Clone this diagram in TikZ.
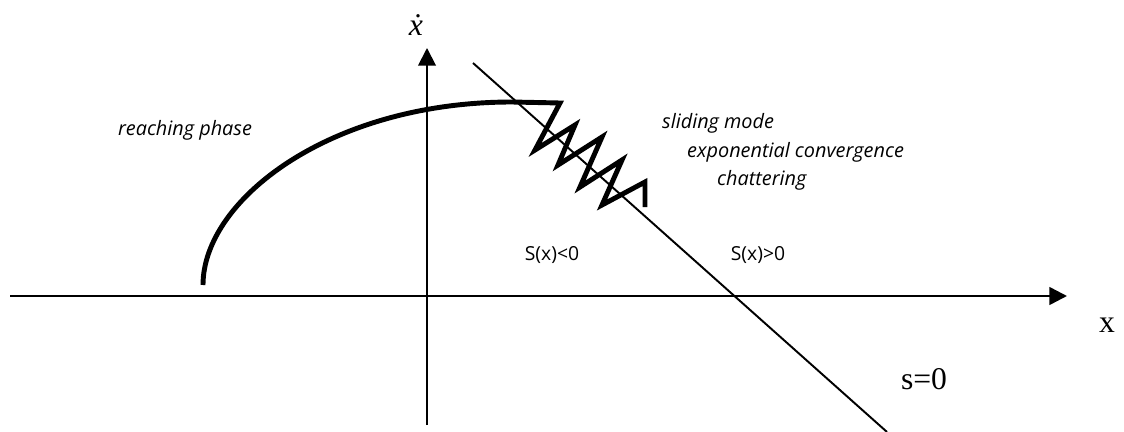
\documentclass[tikz,border=0pt]{standalone}
\usepackage{fontspec}
\setsansfont{Open Sans}
\newfontfamily\timesfont{Liberation Serif}
\usetikzlibrary{arrows.meta}

\begin{document}
\begin{tikzpicture}[x=0.02cm,y=-0.02cm,
  axis/.style={line width=1.4pt,-{Triangle[length=10pt,width=10pt]}},
  traj/.style={line width=2.8pt,line join=miter},
  phase/.style={font=\sffamily\itshape\fontsize{11.3}{13}\selectfont},
  region/.style={font=\sffamily\fontsize{11}{13}\selectfont},
  big/.style={font=\timesfont\fontsize{18}{20}\selectfont}]
 \useasboundingbox (0,0) rectangle (1124,432);
 % axes and the switching line
 \coordinate (xs) at (10,296); \coordinate (xe) at (1067,296);
 \coordinate (ys) at (427,425); \coordinate (ye) at (427,48);
 \coordinate (s1) at (473,63); \coordinate (s2) at (887,432);
 \draw[axis] (xs) -- (xe);
 \draw[axis,line width=1.1pt] (ys) -- (ye);
 \draw[line width=1.1pt] (s1) -- (s2);
 \node[big] (xlab) at (1107,325) {x};
 \node[big,font=\timesfont\itshape\fontsize{18}{20}\selectfont,inner sep=0pt] (xdot) at (416,25) {ẋ};
 \node[big] (slab) at (924,379) {s=0};
 % reaching curve, then chattering about s=0
 \draw[traj] (203,285) .. controls (203,200) and (330,102) .. (512,102) -- (560,103)
   -- (535,150) -- (575,125) -- (558,165) -- (602,137) -- (580,187)
   -- (622,160) -- (602,205) -- (645,182) -- (645,207);
 \node[phase] (reach) at (185,130) {reaching phase};
 \node[phase,anchor=west] (slide) at (656,123) {sliding mode};
 \node[phase,anchor=west] (expo) at (681,152) {exponential convergence};
 \node[phase,anchor=west] (chat) at (711,180) {chattering};
 \node[region] (neg) at (552,255) {S(x)<0};
 \node[region] (pos) at (758,255) {S(x)>0};
\end{tikzpicture}
\end{document}
